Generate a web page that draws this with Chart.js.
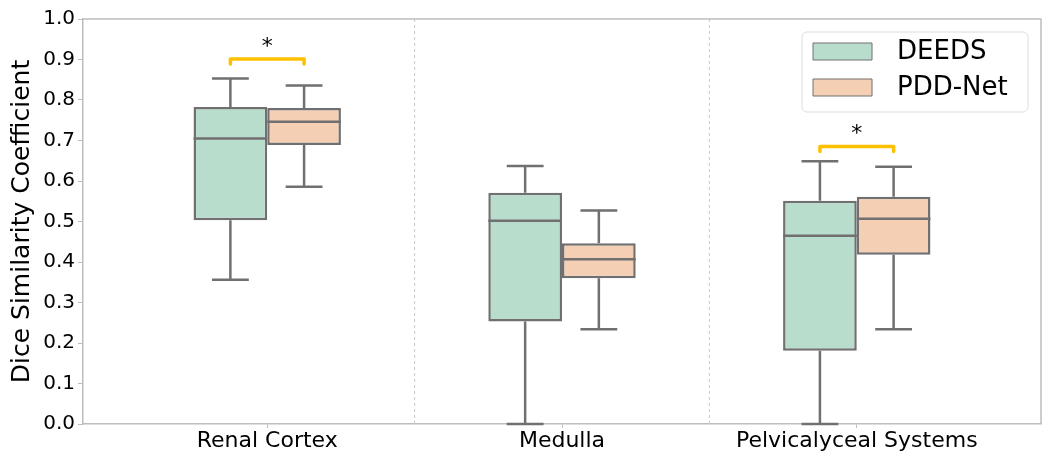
<!DOCTYPE html>
<html>
<head>
<meta charset="utf-8">
<script src="https://cdn.jsdelivr.net/npm/chart.js@4"></script>
<style>
  body { margin: 0; background: #fff; }
  #wrap { width: 1050px; height: 456px; }
</style>
</head>
<body>
<div id="wrap"><canvas id="boxChart"></canvas></div>
<script>
const categories = ["Renal Cortex", "Medulla", "Pelvicalyceal Systems"];
const categoryPos = [0, 1, 2];

// DEEDS box stats
const deedsMin = [0.356, 0.0, 0.0];
const deedsQ1 = [0.503, 0.253, 0.181];
const deedsMed = [0.705, 0.502, 0.465];
const deedsQ3 = [0.783, 0.571, 0.551];
const deedsMax = [0.853, 0.637, 0.649];

// PDD-Net box stats
const pddMin = [0.586, 0.234, 0.234];
const pddQ1 = [0.689, 0.360, 0.418];
const pddMed = [0.746, 0.407, 0.507];
const pddQ3 = [0.780, 0.446, 0.561];
const pddMax = [0.836, 0.527, 0.635];

// significance brackets: category index, height
const sigCats = [0, 2];
const sigLevels = [0.901, 0.685];

const yTicks = [0, 0.1, 0.2, 0.3, 0.4, 0.5, 0.6, 0.7, 0.8, 0.9, 1.0];

const lineGrey = "#707070";
const font = "DejaVu Sans";

function boxData(q1, q3) {
    return categoryPos.map((x, i) => ({ x: x, y: [q1[i], q3[i]] }));
}

const boxExtras = {
    id: "boxExtras",
    afterDatasetsDraw(chart) {
        const ctx = chart.ctx;
        const y = chart.scales.y;
        const x = chart.scales.x;
        const area = chart.chartArea;
        ctx.save();

        // separators between categories
        ctx.strokeStyle = "#c8c8c8";
        ctx.lineWidth = 1;
        ctx.setLineDash([3, 3]);
        [0.5, 1.5].forEach(v => {
            const px = x.getPixelForValue(v);
            ctx.beginPath();
            ctx.moveTo(px, area.top);
            ctx.lineTo(px, area.bottom);
            ctx.stroke();
        });
        ctx.setLineDash([]);

        // whiskers and medians
        chart.data.datasets.forEach((ds, di) => {
            const meta = chart.getDatasetMeta(di);
            meta.data.forEach((bar, i) => {
                const cx = bar.x;
                const half = bar.width / 2;
                const cap = bar.width / 4;
                ctx.strokeStyle = lineGrey;
                ctx.lineWidth = 2.5;
                ctx.beginPath();
                ctx.moveTo(cx, y.getPixelForValue(ds.q3[i]));
                ctx.lineTo(cx, y.getPixelForValue(ds.max[i]));
                ctx.moveTo(cx - cap, y.getPixelForValue(ds.max[i]));
                ctx.lineTo(cx + cap, y.getPixelForValue(ds.max[i]));
                ctx.moveTo(cx, y.getPixelForValue(ds.q1[i]));
                ctx.lineTo(cx, y.getPixelForValue(ds.min[i]));
                ctx.moveTo(cx - cap, y.getPixelForValue(ds.min[i]));
                ctx.lineTo(cx + cap, y.getPixelForValue(ds.min[i]));
                ctx.moveTo(cx - half, y.getPixelForValue(ds.med[i]));
                ctx.lineTo(cx + half, y.getPixelForValue(ds.med[i]));
                ctx.stroke();
            });
        });

        // significance brackets
        const m0 = chart.getDatasetMeta(0);
        const m1 = chart.getDatasetMeta(1);
        sigCats.forEach((c, k) => {
            const x0 = m0.data[c].x;
            const x1 = m1.data[c].x;
            const py = y.getPixelForValue(sigLevels[k]);
            ctx.strokeStyle = "#ffc000";
            ctx.lineWidth = 3.5;
            ctx.lineJoin = "round";
            ctx.lineCap = "round";
            ctx.beginPath();
            ctx.moveTo(x0, py + 5);
            ctx.lineTo(x0, py);
            ctx.lineTo(x1, py);
            ctx.lineTo(x1, py + 5);
            ctx.stroke();
            ctx.fillStyle = "#000";
            ctx.font = "22px '" + font + "'";
            ctx.textAlign = "center";
            ctx.textBaseline = "middle";
            ctx.fillText("*", (x0 + x1) / 2, py - 12);
        });
        ctx.lineCap = "butt";

        // frame top / right
        ctx.strokeStyle = "#bdbdbd";
        ctx.lineWidth = 1.5;
        ctx.beginPath();
        ctx.moveTo(area.left, area.top);
        ctx.lineTo(area.right, area.top);
        ctx.lineTo(area.right, area.bottom);
        ctx.stroke();

        // legend
        const lx = area.right - 239;
        const ly = area.top + 13;
        const lw = 226;
        const lh = 80;
        ctx.fillStyle = "rgba(255,255,255,0.85)";
        ctx.strokeStyle = "#dddddd";
        ctx.lineWidth = 1;
        ctx.beginPath();
        ctx.roundRect(lx, ly, lw, lh, 5);
        ctx.fill();
        ctx.stroke();
        chart.data.datasets.forEach((ds, di) => {
            const cy = ly + 19.5 + di * 36;
            ctx.fillStyle = ds.backgroundColor;
            ctx.strokeStyle = lineGrey;
            ctx.lineWidth = 1;
            ctx.fillRect(lx + 11, cy - 8.5, 59, 17);
            ctx.strokeRect(lx + 11, cy - 8.5, 59, 17);
            ctx.fillStyle = "#000";
            ctx.font = "26px '" + font + "'";
            ctx.textAlign = "left";
            ctx.textBaseline = "middle";
            ctx.fillText(ds.label, lx + 95, cy + 1);
        });
        ctx.restore();
    }
};

new Chart(document.getElementById("boxChart"), {
    type: "bar",
    data: {
        datasets: [
            {
                label: "DEEDS",
                data: boxData(deedsQ1, deedsQ3),
                q1: deedsQ1, q3: deedsQ3, med: deedsMed, min: deedsMin, max: deedsMax,
                backgroundColor: "#b9ddcc",
                borderColor: lineGrey,
                borderWidth: 2.5,
                borderSkipped: false
            },
            {
                label: "PDD-Net",
                data: boxData(pddQ1, pddQ3),
                q1: pddQ1, q3: pddQ3, med: pddMed, min: pddMin, max: pddMax,
                backgroundColor: "#f4cfb4",
                borderColor: lineGrey,
                borderWidth: 2.5,
                borderSkipped: false
            }
        ]
    },
    options: {
        responsive: true,
        maintainAspectRatio: false,
        animation: false,
        categoryPercentage: 0.5,
        barPercentage: 1.0,
        layout: { padding: { top: 19, right: 9, left: 0, bottom: 0 } },
        plugins: {
            legend: { display: false },
            tooltip: { enabled: false }
        },
        scales: {
            x: {
                type: "linear",
                offset: false,
                min: -0.625,
                max: 2.625,
                afterBuildTicks: scale => {
                    scale.ticks = categoryPos.map(v => ({ value: v }));
                },
                afterFit: scale => { scale.height = 32; },
                ticks: {
                    callback: v => categories[v],
                    color: "#000",
                    font: { family: font, size: 22 },
                    padding: 0,
                    maxRotation: 0,
                    autoSkip: false
                },
                grid: { drawOnChartArea: false, offset: false, tickLength: 4, color: "#bdbdbd" },
                border: { color: "#bdbdbd", width: 1.5 }
            },
            y: {
                min: 0,
                max: 1,
                afterBuildTicks: scale => {
                    scale.ticks = yTicks.map(v => ({ value: v }));
                },
                afterFit: scale => { scale.width = 83; },
                ticks: {
                    callback: v => v.toFixed(1),
                    color: "#000",
                    font: { family: font, size: 20 },
                    padding: 3
                },
                grid: { drawOnChartArea: false, tickLength: 5, color: "#bdbdbd" },
                border: { color: "#bdbdbd", width: 1.5 },
                title: {
                    display: true,
                    text: "Dice Similarity Coefficient",
                    color: "#000",
                    font: { family: font, size: 25 },
                    padding: { top: 7, bottom: 0 }
                }
            }
        }
    },
    plugins: [boxExtras]
});
</script>
</body>
</html>
